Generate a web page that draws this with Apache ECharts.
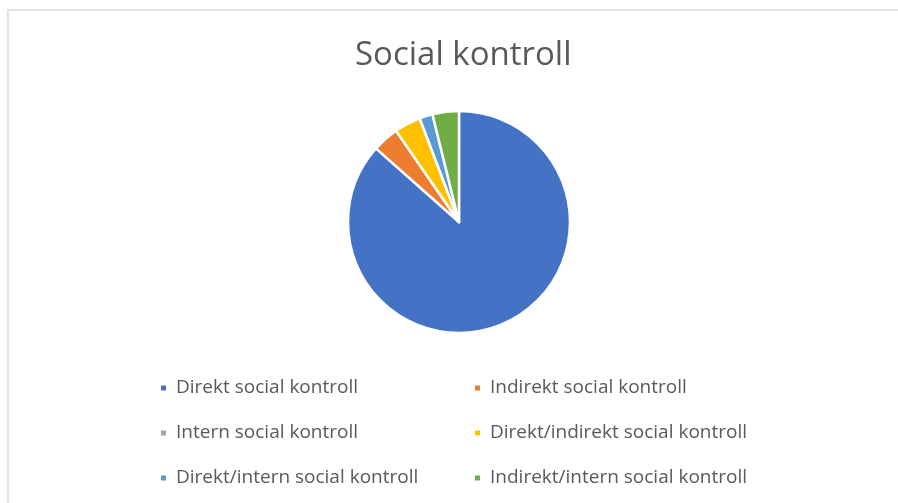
<!DOCTYPE html>
<html>
<head>
<meta charset="utf-8">
<script src="https://cdn.jsdelivr.net/npm/echarts@6/dist/echarts.min.js"></script>
<style>
  html, body { margin: 0; padding: 0; background: #fff; }
  #chart { width: 898px; height: 503px; }
</style>
</head>
<body>
<div id="chart"></div>
<script>
// categories and counts
const categories = [
  'Direkt social kontroll',
  'Indirekt social kontroll',
  'Intern social kontroll',
  'Direkt/indirekt social kontroll',
  'Direkt/intern social kontroll',
  'Indirekt/intern social kontroll'
];
const counts = [45, 2, 0, 2, 1, 2];
const colors = ['#4472C4', '#ED7D31', '#A5A5A5', '#FFC000', '#5B9BD5', '#70AD47'];

const leftColumn = [categories[0], categories[2], categories[4]];
const rightColumn = [categories[1], categories[3], categories[5]];

const chart = echarts.init(document.getElementById('chart'));

const legendBase = {
  orient: 'vertical',
  top: 372,
  icon: 'rect',
  itemWidth: 7,
  itemHeight: 7,
  itemGap: 23,
  selectedMode: false,
  textStyle: {
    color: '#595959',
    fontSize: 19,
    fontFamily: 'Open Sans',
    lineHeight: 22,
    padding: [0, 0, 0, 4]
  }
};

chart.setOption({
  animation: false,
  color: colors,
  graphic: [{
    type: 'rect',
    shape: { x: 8, y: 10, width: 900, height: 500 },
    style: { fill: 'none', stroke: '#D9D9D9', lineWidth: 1.5 },
    silent: true
  }],
  title: {
    text: 'Social kontroll',
    left: 350,
    top: 34,
    textStyle: {
      color: '#595959',
      fontSize: 33,
      fontWeight: 'normal',
      fontFamily: 'Open Sans'
    }
  },
  legend: [
    Object.assign({}, legendBase, { left: 154, data: leftColumn }),
    Object.assign({}, legendBase, { left: 468, data: rightColumn })
  ],
  series: [{
    type: 'pie',
    center: [459, 222],
    radius: [0, 111],
    startAngle: 90,
    clockwise: true,
    label: { show: false },
    labelLine: { show: false },
    emphasis: { disabled: true },
    itemStyle: { borderColor: '#fff', borderWidth: 2.5 },
    data: categories.map((name, i) => ({ name: name, value: counts[i] }))
  }]
});
</script>
</body>
</html>
